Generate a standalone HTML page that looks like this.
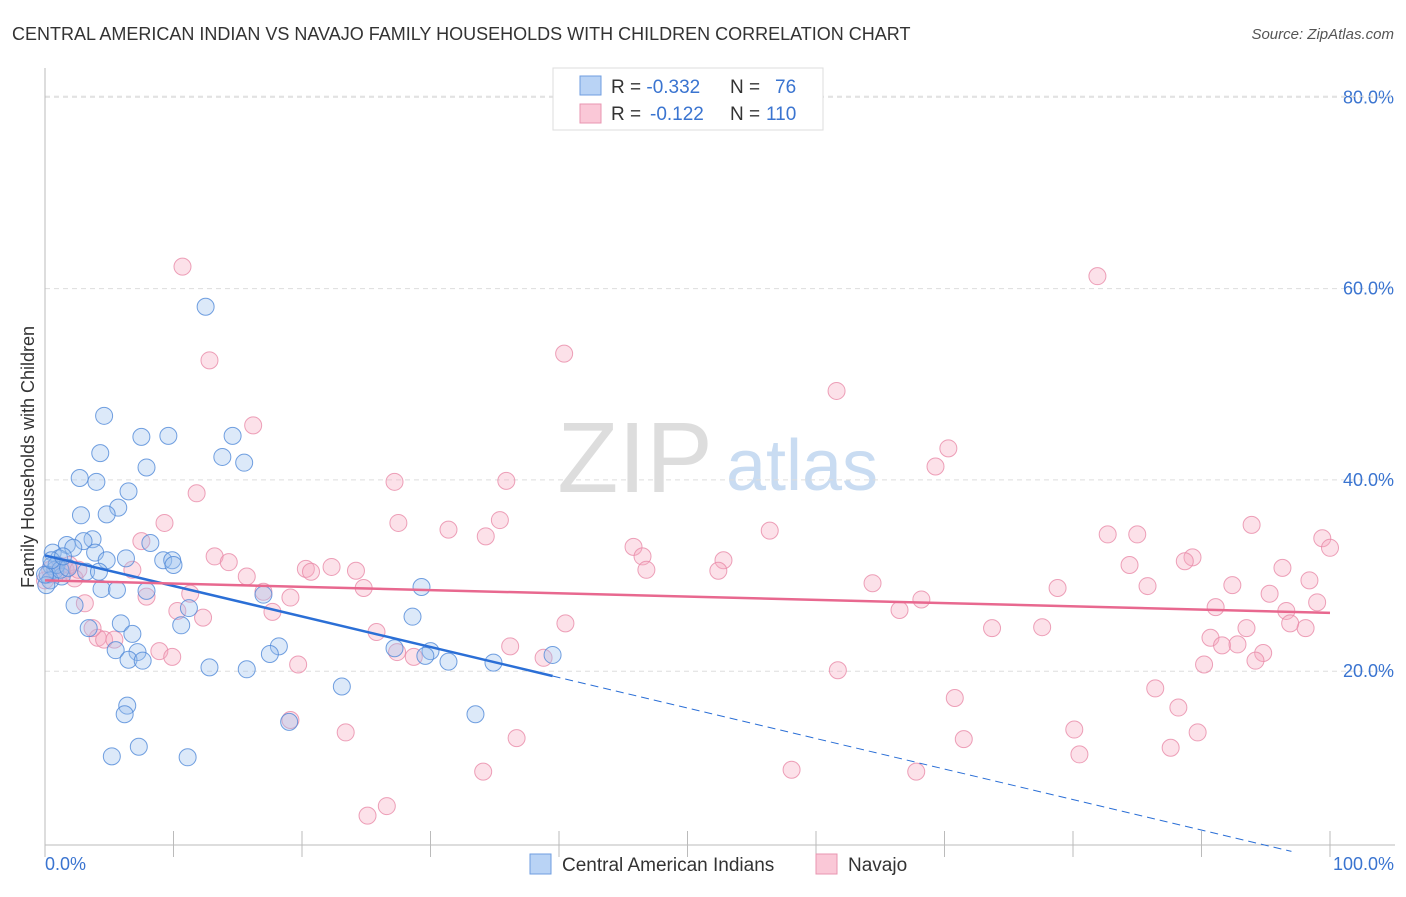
<!DOCTYPE html>
<html><head><meta charset="utf-8"><style>
body{margin:0;background:#fff;font-family:"Liberation Sans",sans-serif}
svg text{font-family:"Liberation Sans",sans-serif}
</style></head><body>
<svg id="chart" width="1406" height="892">
<text x="12" y="40" font-size="18" fill="#333">CENTRAL AMERICAN INDIAN VS NAVAJO FAMILY HOUSEHOLDS WITH CHILDREN CORRELATION CHART</text>
<text x="1394" y="39" font-size="15" fill="#555" font-style="italic" text-anchor="end">Source: ZipAtlas.com</text>
<text x="635" y="492" font-size="100" fill="#ddd" font-family="Liberation Serif" text-anchor="middle">ZIP</text>
<text x="802" y="490" font-size="72" fill="#c9dcf2" text-anchor="middle">atlas</text>
<g id="grid"></g><g id="axes"></g><g id="pts"></g><g id="trend"></g>
<text transform="translate(34,457) rotate(-90)" font-size="18" fill="#333" text-anchor="middle">Family Households with Children</text>
<text x="45" y="870" font-size="18" fill="#3a74d0">0.0%</text>
<text x="1394" y="870" font-size="18" fill="#3a74d0" text-anchor="end">100.0%</text>
<g>
<rect x="553" y="68" width="270" height="62" fill="#fff" stroke="#ddd"/>
<rect x="580" y="76" width="21" height="19" fill="#b9d3f5" stroke="#6f9ee0"/>
<rect x="580" y="104" width="21" height="19" fill="#fac8d7" stroke="#e896b0"/>
<text x="611" y="93" font-size="19" fill="#333">R = <tspan fill="#3a74d0">-0.332</tspan><tspan x="730">N = </tspan><tspan x="775" fill="#3a74d0">76</tspan></text>
<text x="611" y="120" font-size="19" fill="#333">R = <tspan x="650" fill="#3a74d0">-0.122</tspan><tspan x="730">N = </tspan><tspan x="766" fill="#3a74d0">110</tspan></text>
</g>
<g>
<rect x="530" y="854" width="21" height="20" fill="#b9d3f5" stroke="#6f9ee0"/>
<text x="562" y="871" font-size="19" fill="#333">Central American Indians</text>
<rect x="816" y="854" width="21" height="20" fill="#fac8d7" stroke="#e896b0"/>
<text x="848" y="871" font-size="19" fill="#333">Navajo</text>
</g>
</svg>
<script>
const yTicks=[20,40,60,80];
const xTickVals=[0,10,20,30,40,50,60,70,80,90,100];
const blueX=[12.5,4.6,7.5,9.6,14.6,4.3,13.8,7.9,15.5,2.7,4.0,6.5,5.7,2.8,4.8,8.2,3.7,3.0,1.7,2.2,0.6,3.9,4.8,9.2,9.9,10.0,6.3,1.1,0.5,0.8,0.2,3.2,4.2,1.3,4.4,5.6,7.9,11.2,17.0,29.3,2.3,28.6,3.4,5.9,6.8,10.6,18.2,5.5,7.2,17.5,27.2,30.0,29.6,6.5,7.6,12.8,15.7,31.4,34.9,39.5,23.1,6.4,6.2,33.5,19.0,7.3,5.2,11.1,0.9,0.4,0.1,1.2,1.8,0.0,0.5,1.4];
const blueY=[58.1,46.7,44.5,44.6,44.6,42.8,42.4,41.3,41.8,40.2,39.8,38.8,37.1,36.3,36.4,33.4,33.8,33.6,33.2,32.9,32.4,32.4,31.6,31.6,31.6,31.1,31.8,31.8,31.0,30.6,30.1,30.4,30.4,29.9,28.6,28.5,28.4,26.6,28.0,28.8,26.9,25.7,24.5,25.0,23.9,24.8,22.6,22.2,22.0,21.8,22.4,22.1,21.6,21.2,21.1,20.4,20.2,21.0,20.9,21.7,18.4,16.4,15.5,15.5,14.7,12.1,11.1,11.0,31.1,29.5,29.0,30.6,30.8,30.1,31.6,32.0];
const pinkX=[10.7,81.9,40.4,12.8,61.6,16.2,70.3,69.3,27.2,35.9,11.8,9.3,27.5,35.4,31.4,34.3,56.4,93.9,85.0,82.7,99.4,100.0,45.8,46.5,52.8,7.5,13.2,14.3,22.3,20.3,24.2,20.7,46.8,52.4,84.4,89.3,88.7,96.3,15.7,2.3,6.8,64.4,98.4,78.8,85.8,92.4,17.0,11.3,7.9,19.1,24.8,68.2,95.3,99.0,91.1,66.5,3.1,10.3,12.3,17.7,96.6,93.5,98.1,96.9,25.8,40.5,73.7,77.6,4.1,4.6,5.4,3.7,36.2,90.7,91.6,92.8,94.8,8.9,9.9,27.4,28.7,38.8,90.2,94.2,19.7,61.7,70.8,86.4,88.2,19.1,23.4,36.7,80.1,71.5,89.7,87.6,80.5,34.1,58.1,67.8,26.6,25.1,1.2,0.4,1.6,0.8,1.9,0.0,2.6];
const pinkY=[62.3,61.3,53.2,52.5,49.3,45.7,43.3,41.4,39.8,39.9,38.6,35.5,35.5,35.8,34.8,34.1,34.7,35.3,34.3,34.3,33.9,32.9,33.0,32.0,31.6,33.6,32.0,31.4,30.9,30.7,30.5,30.4,30.6,30.5,31.1,31.9,31.5,30.8,29.9,29.7,30.6,29.2,29.5,28.7,28.9,29.0,28.3,28.1,27.8,27.7,28.7,27.5,28.1,27.2,26.7,26.4,27.1,26.3,25.6,26.2,26.3,24.5,24.5,25.0,24.1,25.0,24.5,24.6,23.5,23.3,23.3,24.5,22.6,23.5,22.7,22.8,21.9,22.1,21.5,22.0,21.5,21.4,20.7,21.1,20.7,20.1,17.2,18.2,16.2,14.9,13.6,13.0,13.9,12.9,13.6,12.0,11.3,9.5,9.7,9.5,5.9,4.9,31.0,30.6,30.6,30.1,31.1,29.5,30.6];
const blueTrend=[32.1,19.5,39.5];
const pinkTrend=[29.5,26.1];
const NS="http://www.w3.org/2000/svg";
const X=v=>45+v*12.85, Y=v=>862.5-v*9.565;
function mk(tag,attrs,parent){const e=document.createElementNS(NS,tag);for(const k in attrs)e.setAttribute(k,attrs[k]);document.getElementById(parent).appendChild(e);return e;}
yTicks.forEach(t=>{
 const l=mk('line',{x1:45,x2:1395,y1:Y(t),y2:Y(t),stroke:'#ddd','stroke-dasharray':'5,4'},'grid');
 
 
 const tx=mk('text',{x:1394,y:Y(t)+6,'font-size':18,fill:'#3a74d0','text-anchor':'end'},'grid');
 tx.textContent=t.toFixed(1)+'%';
 
 
});
mk('line',{x1:45,x2:1395,y1:Y(80)-1,y2:Y(80)-1,stroke:'#ddd','stroke-dasharray':'5,4'},'grid');
const ax=mk('line',{x1:45,x2:45,y1:68,y2:845,stroke:'#bbb'},'axes');


const bx=mk('line',{x1:45,x2:1395,y1:845,y2:845,stroke:'#bbb'},'axes');


xTickVals.forEach(v=>{
 const t=mk('line',{x1:X(v),x2:X(v),y1:831,y2:857,stroke:'#bbb'},'axes');
 
 
});
function pts(xs,ys,fill,stroke,name){
 xs.forEach((x,i)=>{
  const c=mk('circle',{cx:X(x),cy:Y(ys[i]),r:8.5,fill:fill,'fill-opacity':0.35,stroke:stroke,'stroke-opacity':0.8,'stroke-width':1},'pts');
  
  
 });
}
pts(pinkX,pinkY,'#f6a8c0','#e88aa8','navajo-point');
pts(blueX,blueY,'#9cc0ee','#4f88d8','central-american-point');
const bslope=(blueTrend[1]-blueTrend[0])/blueTrend[2];
const b1=mk('line',{x1:X(0),y1:Y(blueTrend[0]),x2:X(blueTrend[2]),y2:Y(blueTrend[1]),stroke:'#2b6fd6','stroke-width':2.5},'trend');


const b2=mk('line',{x1:X(blueTrend[2]),y1:Y(blueTrend[1]),x2:X(97),y2:Y(blueTrend[0]+bslope*97),stroke:'#2b6fd6','stroke-width':1,'stroke-dasharray':'8,5'},'trend');


const p1=mk('line',{x1:X(0),y1:Y(pinkTrend[0]),x2:X(100),y2:Y(pinkTrend[1]),stroke:'#e8688f','stroke-width':2.5},'trend');


</script>
</body></html>
